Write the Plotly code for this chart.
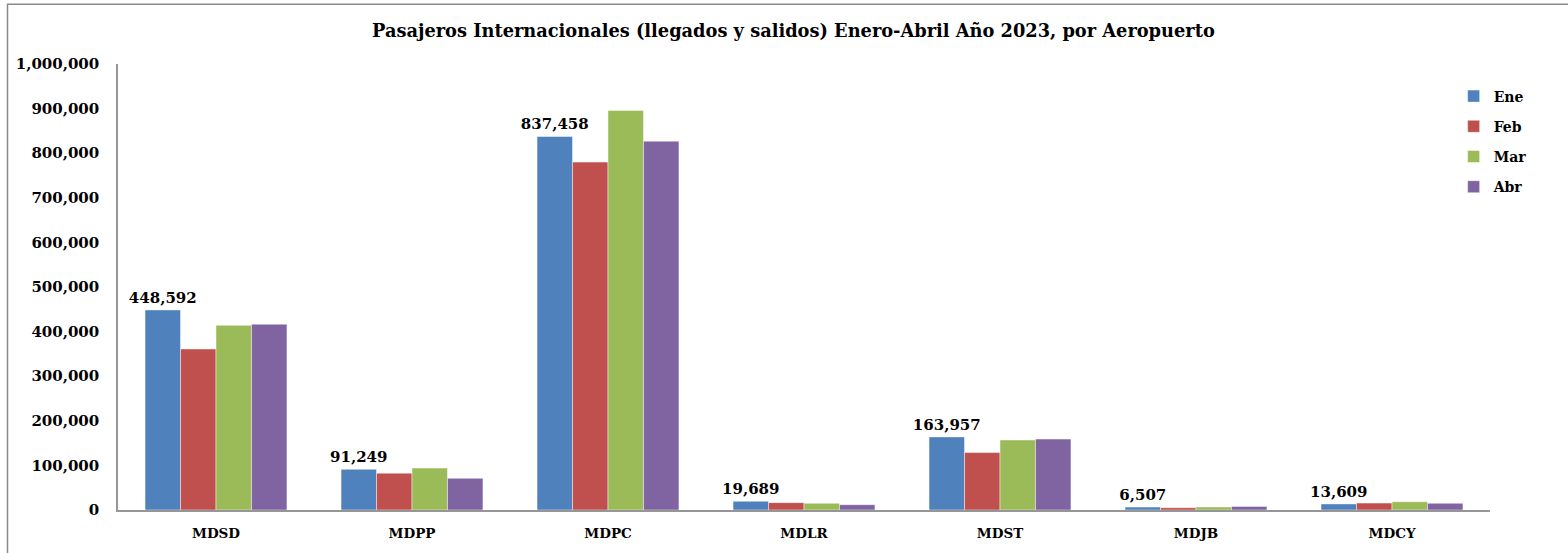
import plotly.graph_objects as go

categories = ["MDSD", "MDPP", "MDPC", "MDLR", "MDST", "MDJB", "MDCY"]
ene = [448592, 91249, 837458, 19689, 163957, 6507, 13609]
feb = [361000, 82600, 780000, 16500, 128800, 5200, 15500]
mar = [414000, 94000, 896000, 15000, 157000, 6800, 18500]
abr = [416500, 71000, 827000, 12000, 159000, 8000, 15000]
series_names = ["Ene", "Feb", "Mar", "Abr"]
colors = ["#4F81BD", "#C0504D", "#9BBB59", "#8064A2"]
title_text = "Pasajeros Internacionales (llegados y salidos) Enero-Abril Año 2023, por Aeropuerto"

FONT = "DejaVu Serif"

fig = go.Figure()
for i, (name, vals, col) in enumerate(zip(series_names, [ene, feb, mar, abr], colors)):
    kw = {}
    if i == 0:
        kw = dict(text=[f"{v:,}" for v in vals], textposition="outside",
                  texttemplate="<b>%{text}</b>", constraintext="none",
                  textfont=dict(family=FONT, size=15, color="black"),
                  cliponaxis=False)
    fig.add_trace(go.Bar(
        x=categories, y=vals, name=f"<b>{name}</b>", legendgroup=name,
        marker=dict(color=col, line=dict(color="rgba(255,255,255,0.45)", width=1)),
        **kw
    ))

fig.update_layout(
    width=1568, height=553,
    paper_bgcolor="white", plot_bgcolor="white",
    margin=dict(l=118, r=78, t=64, b=41),
    barmode="group", bargap=0.276, bargroupgap=0,
    font=dict(family=FONT, size=14, color="black"),
    title=dict(text=f"<b>{title_text}</b>", x=0.506, xanchor="center",
               y=1 - 31 / 553, yanchor="middle", yref="container",
               font=dict(family=FONT, size=17.8, color="black")),
    legend=dict(x=0.9735, xanchor="left", y=0.963, yanchor="top",
                font=dict(family=FONT, size=14, color="black"),
                tracegroupgap=9, bgcolor="rgba(0,0,0,0)"),
    showlegend=True,
)

ytick_vals = list(range(0, 1000001, 100000))
fig.update_xaxes(showline=True, linecolor="#969696", linewidth=1.5,
                 showgrid=False, ticks="", ticklabelstandoff=10,
                 tickvals=categories, ticktext=[f"<b>{c}</b>" for c in categories],
                 tickfont=dict(family=FONT, size=13.5, color="black"))
fig.update_yaxes(range=[0, 1000000],
                 tickvals=ytick_vals, ticktext=[f"<b>{v:,}</b>" for v in ytick_vals],
                 showline=True, linecolor="#969696", linewidth=1.5,
                 showgrid=False, ticks="", zeroline=False, ticklabelstandoff=14,
                 tickfont=dict(family=FONT, size=15, color="black"))

# outer chart border
fig.add_shape(type="rect", xref="paper", yref="paper",
              x0=(7.5 - 118) / 1372, x1=(1600 - 118) / 1372,
              y0=(512 - 600) / 448, y1=(512 - 4) / 448,
              line=dict(color="#8a8a8a", width=1.5), fillcolor="rgba(0,0,0,0)",
              layer="below")

fig.write_html("out.html", config={"displayModeBar": False},
               post_script="document.body.style.margin='0';document.body.style.overflow='hidden';")
